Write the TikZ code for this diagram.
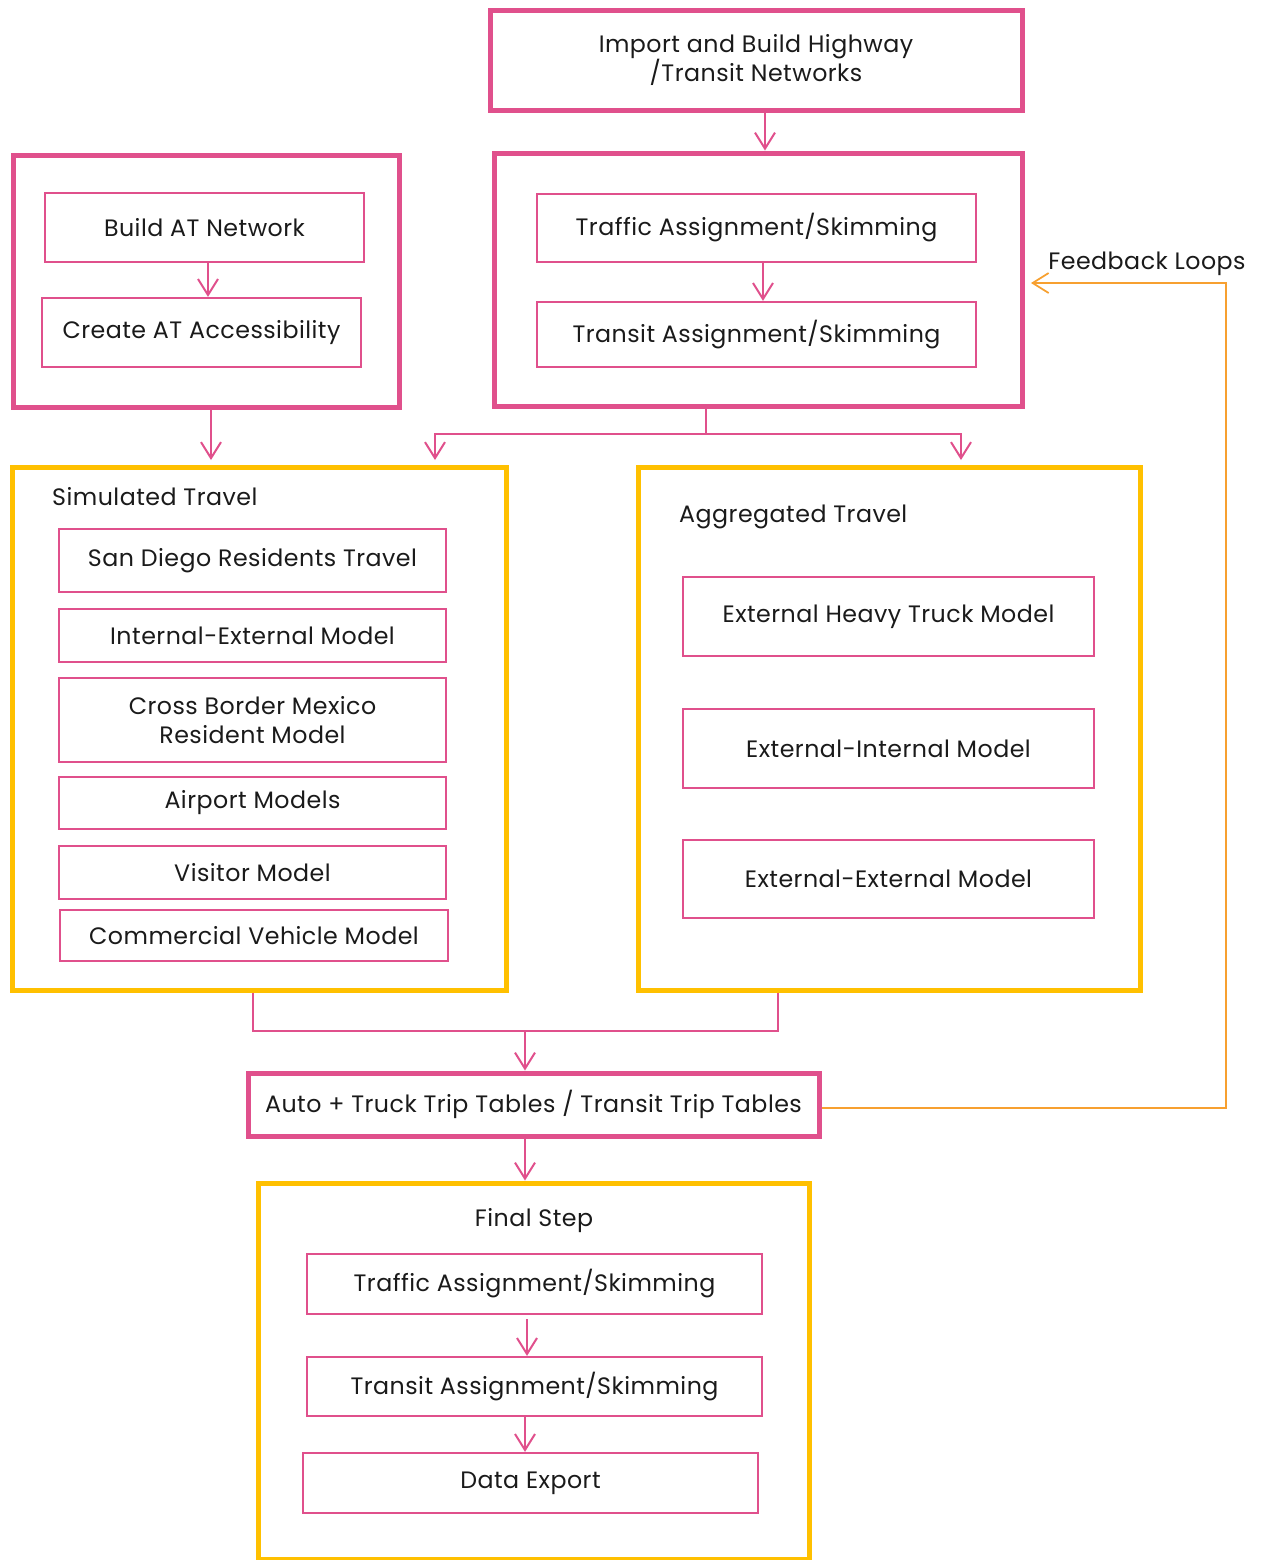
\documentclass[tikz,border=0pt]{standalone}
\usepackage{fontspec}
\setmainfont[LetterSpace=2.0]{Poppins}
\usetikzlibrary{arrows.meta}
\definecolor{pinkline}{HTML}{E0508C}
\definecolor{yelline}{HTML}{FFC000}
\definecolor{fbline}{HTML}{F7A030}
\definecolor{txt}{HTML}{1A1A1A}
\tikzset{
	px/.style 2 args={minimum width=#1*0.2mm, minimum height=#2*0.2mm},
	thickbox/.style={draw=pinkline, line width=1mm, inner sep=0pt, align=center},
	thinbox/.style={draw=pinkline, line width=0.45mm, inner sep=0pt, align=center},
	yelbox/.style={draw=yelline, line width=1mm, inner sep=0pt},
	conn/.style={draw=pinkline, line width=0.4mm, -{Straight Barb[length=3.2mm,width=4mm]}},
	plain/.style={draw=pinkline, line width=0.4mm},
	fbconn/.style={draw=fbline, line width=0.35mm, -{Straight Barb[length=3.2mm,width=4mm]}},
	every node/.style={font=\fontsize{13.5}{16.5}\selectfont, text=txt}
}
\begin{document}
\begin{tikzpicture}[x=0.2mm,y=-0.2mm]
	\useasboundingbox (0,0) rectangle (1265,1560);
	% network blocks
	\node[thickbox, px={532}{100}] (import) at (756,60) {Import and Build Highway\\/Transit Networks};
	\node[thickbox, px={528}{253}] (roadbox) at (758,279.5) {};
	\node[thinbox, px={439}{68}] (traffic) at (756.5,228) {Traffic Assignment/Skimming};
	\node[thinbox, px={439}{65}] (transit) at (756.5,334.5) {Transit Assignment/Skimming};
	\node[thickbox, px={386}{252}] (atbox) at (206,281) {};
	\node[thinbox, px={319}{69}] (atnet) at (204.5,227.5) {Build AT Network};
	\node[thinbox, px={319}{69}] (atacc) at (201.5,332.5) {Create AT Accessibility};
	\draw[conn] (765,0 |- import.south) -- (765,0 |- roadbox.north);
	\draw[conn] (763,0 |- traffic.south) -- (763,0 |- transit.north);
	\draw[conn] (208,0 |- atnet.south) -- (208,0 |- atacc.north);

	% simulated travel
	\node[yelbox, px={494}{523}] (simulated) at (259,728.5) {};
	\node[anchor=west] (simlabel) at (46,497) {Simulated Travel};
	\node[thinbox, px={387}{63}] (sandiego) at (252.5,560.5) {San Diego Residents Travel};
	\node[thinbox, px={387}{53}] (intext) at (252.5,635.5) {Internal-External Model};
	\node[thinbox, px={387}{84}] (border) at (252.5,720) {Cross Border Mexico\\Resident Model};
	\node[thinbox, px={387}{52}] (airport) at (252.5,803) {Airport Models};
	\node[thinbox, px={387}{53}] (visitor) at (252.5,872.5) {Visitor Model};
	\node[thinbox, px={388}{51}] (commercial) at (254,935.5) {Commercial Vehicle Model};

	% aggregated travel
	\node[yelbox, px={502}{523}] (aggregated) at (889,728.5) {};
	\node[anchor=west] (agglabel) at (673,517) {Aggregated Travel};
	\node[thinbox, px={411}{79}] (truck) at (888.5,616.5) {External Heavy Truck Model};
	\node[thinbox, px={411}{79}] (extint) at (888.5,748.5) {External-Internal Model};
	\node[thinbox, px={411}{78}] (extext) at (888.5,879) {External-External Model};

	\draw[conn] (211,0 |- atbox.south) -- (211,460);
	\coordinate (split) at (706,434);
	\draw[plain] (split |- roadbox.south) -- (split);
	\draw[conn] (split) -| (435,460);
	\draw[conn] (split) -| (961,460);

	% trip tables
	\node[thickbox, px={571}{63}] (tables) at (533.5,1104.5) {Auto + Truck Trip Tables / Transit Trip Tables};
	\coordinate (merge) at (525,1031);
	\draw[plain] (253,0 |- simulated.south) |- (merge);
	\draw[plain] (778,0 |- aggregated.south) |- (merge);
	\draw[conn] (merge) -- (525,0 |- tables.north);

	% feedback
	\coordinate (fbend) at (1031,283);
	\draw[fbconn] (tables.east |- 0,1108) -| (1226,283) -- (fbend);
	\node (fblabel) at (1147,264) {Feedback Loops};

	% final step
	\node[yelbox, px={551}{376}] (final) at (533.5,1371) {};
	\node (finallabel) at (534,1221) {Final Step};
	\node[thinbox, px={455}{60}] (ftraffic) at (534.5,1284) {Traffic Assignment/Skimming};
	\node[thinbox, px={455}{59}] (ftransit) at (534.5,1386.5) {Transit Assignment/Skimming};
	\node[thinbox, px={455}{60}] (export) at (530.5,1483) {Data Export};
	\draw[conn] (525,0 |- tables.south) -- (525,0 |- final.north);
	\draw[conn] (527,1319) -- (527,0 |- ftransit.north);
	\draw[conn] (525,0 |- ftransit.south) -- (525,0 |- export.north);
\end{tikzpicture}
\end{document}
